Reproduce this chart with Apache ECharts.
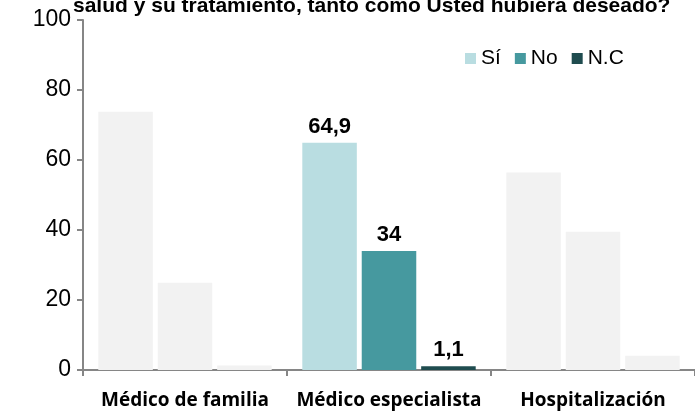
<!DOCTYPE html>
<html>
<head>
<meta charset="utf-8">
<script src="https://cdn.jsdelivr.net/npm/echarts@6/dist/echarts.min.js"></script>
<style>
  html, body { margin: 0; padding: 0; background: #ffffff; }
  #chart { width: 695px; height: 412px; }
</style>
</head>
<body>
<div id="chart"></div>
<script>
var categories = ['Médico de familia', 'Médico especialista', 'Hospitalización'];
var siValues = [73.8, 64.9, 56.4];
var noValues = [24.9, 34, 39.5];
var ncValues = [1.3, 1.1, 4.1];
var yTicks = [0, 20, 40, 60, 80, 100];
var highlight = 1; // only "Médico especialista" is coloured

var chart = echarts.init(document.getElementById('chart'), null, { renderer: 'canvas' });

function buildData(values) {
    return values.map(function (v, i) {
        if (i === highlight) return { value: v };
        return { value: v, itemStyle: { color: '#f2f2f2' }, label: { show: false } };
    });
}

var labelStyle = {
    show: true,
    position: 'top',
    distance: 5,
    color: '#000000',
    fontFamily: 'Liberation Sans, Arial',
    fontWeight: 'bold',
    fontSize: 22,
    formatter: function (p) {
        return String(p.value).replace('.', ',');
    }
};

var option = {
    backgroundColor: '#ffffff',
    animation: false,
    title: {
        text: 'salud y su tratamiento, tanto como Usted hubiera deseado?',
        left: 68,
        top: -9,
        textStyle: {
            fontFamily: 'Liberation Sans, Arial',
            fontWeight: 'bold',
            fontSize: 21,
            color: '#000000'
        }
    },
    color: ['#b9dde1', '#46999f', '#1f4c4f'],
    legend: {
        left: 460,
        top: 43,
        itemWidth: 11,
        itemHeight: 11,
        itemGap: 14,
        icon: 'rect',
        textStyle: {
            fontFamily: 'Liberation Sans, Arial',
            fontSize: 21,
            color: '#000000'
        },
        data: ['Sí', 'No', 'N.C']
    },
    grid: {
        left: 83,
        top: 20,
        bottom: 42,
        width: 620,
        containLabel: false
    },
    xAxis: {
        type: 'category',
        data: categories,
        axisLine: { lineStyle: { color: '#868686', width: 2 } },
        axisTick: { show: true, length: 6, lineStyle: { color: '#868686', width: 2 } },
        axisLabel: {
            margin: 21,
            color: '#000000',
            fontFamily: 'Open Sans',
            fontWeight: 'bold',
            fontSize: 19,
            interval: 0
        }
    },
    yAxis: {
        type: 'value',
        min: yTicks[0],
        max: yTicks[yTicks.length - 1],
        interval: 20,
        splitLine: { show: false },
        axisLine: { show: true, lineStyle: { color: '#868686', width: 2 } },
        axisTick: { show: true, length: 6, lineStyle: { color: '#868686', width: 2 } },
        axisLabel: {
            margin: 12,
            color: '#000000',
            fontFamily: 'Liberation Sans, Arial',
            fontSize: 23
        }
    },
    series: [
        {
            name: 'Sí',
            type: 'bar',
            barGap: '9%',
            barCategoryGap: '15%',
            label: labelStyle,
            data: buildData(siValues)
        },
        {
            name: 'No',
            type: 'bar',
            label: labelStyle,
            data: buildData(noValues)
        },
        {
            name: 'N.C',
            type: 'bar',
            label: labelStyle,
            data: buildData(ncValues)
        }
    ]
};
chart.setOption(option);

window.onresize = function () {
    chart.resize();
};
</script>
</body>
</html>
